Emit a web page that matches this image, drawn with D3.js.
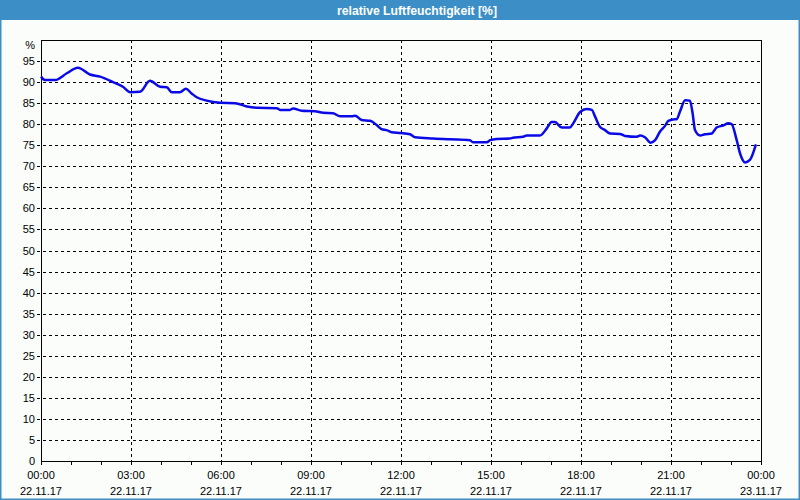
<!DOCTYPE html>
<html><head><meta charset="utf-8">
<script src="https://cdn.jsdelivr.net/npm/d3@7/dist/d3.min.js"></script>
<style>
html,body{margin:0;padding:0;background:#fff;}
svg{display:block;font-family:"Liberation Sans",Arial,sans-serif;}
</style></head><body>
<script>
const title = "relative Luftfeuchtigkeit [%]";
// hours since 22.11.17 00:00
const hours = [0.00,0.13,0.47,0.86,1.23,1.63,1.97,2.40,2.73,2.97,3.30,3.63,3.97,4.19,4.36,4.63,4.83,5.02,5.19,5.52,5.97,6.47,6.86,7.19,7.86,7.97,8.30,8.40,8.69,9.13,9.40,9.73,9.97,10.36,10.47,10.69,10.97,11.19,11.36,11.52,11.69,11.97,12.30,12.47,13.07,13.63,14.30,14.40,14.86,14.97,15.19,15.63,15.73,16.07,16.19,16.63,16.86,17.02,17.13,17.36,17.63,17.74,17.97,18.19,18.36,18.47,18.63,18.80,18.97,19.30,19.47,19.86,19.97,20.13,20.32,20.47,20.63,20.80,20.91,21.13,21.19,21.30,21.47,21.63,21.72,21.80,21.97,22.13,22.36,22.52,22.74,22.91,23.02,23.19,23.30,23.47,23.63,23.83];
const humidity = [91.3,90.5,90.5,92.1,93.4,91.8,91.3,90.0,88.9,87.6,87.7,90.3,88.9,88.8,87.6,87.6,88.4,87.3,86.4,85.6,85.1,85.0,84.2,83.9,83.8,83.4,83.4,83.7,83.2,83.1,82.7,82.6,81.9,81.9,82.0,81.0,80.8,79.8,78.8,78.6,78.1,77.9,77.6,76.9,76.6,76.4,76.2,75.7,75.7,76.2,76.5,76.6,76.8,77.0,77.3,77.3,79.0,80.5,80.5,79.2,79.2,80.2,82.9,83.6,83.4,81.8,79.4,78.6,77.8,77.7,77.2,77.0,77.3,76.9,75.6,76.2,78.2,79.6,80.8,81.2,81.2,83.0,85.7,85.6,82.6,78.6,77.3,77.6,77.8,79.2,79.7,80.2,80.0,76.2,73.1,70.9,71.5,75.2];
const yTicks = [0,5,10,15,20,25,30,35,40,45,50,55,60,65,70,75,80,85,90,95];
const xMajor = [0,3,6,9,12,15,18,21,24];
const xTimeLabels = ["00:00","03:00","06:00","09:00","12:00","15:00","18:00","21:00","00:00"];
const xDateLabels = ["22.11.17","22.11.17","22.11.17","22.11.17","22.11.17","22.11.17","22.11.17","22.11.17","23.11.17"];
const xMinor = d3.range(0,25,1);

const W=800,H=500;
const L=41,R=761,T=40,B=461;
const svg=d3.select("body").append("svg").attr("width",W).attr("height",H);
svg.append("rect").attr("width",W).attr("height",H).attr("fill","#fbfdfb");
svg.append("rect").attr("x",0.5).attr("y",0.5).attr("width",W-1).attr("height",H-1).attr("fill","none").attr("stroke","#3c8fc6").attr("stroke-width",2);
svg.append("rect").attr("x",0).attr("y",0).attr("width",W).attr("height",20).attr("fill","#3c8fc6");
svg.append("text").attr("x",417).attr("y",15).attr("text-anchor","middle").attr("fill","#fff")
 .attr("font-size",12).attr("font-weight","bold").attr("textLength",160).attr("lengthAdjust","spacingAndGlyphs").text(title);

const x=d3.scaleLinear().domain([0,24]).range([L,R]);
const y=d3.scaleLinear().domain([0,100]).range([B,T]);

const g=svg.append("g");
g.selectAll(".hg").data(yTicks.filter(d=>d>0)).enter().append("line")
 .attr("x1",L-4).attr("x2",R).attr("y1",d=>Math.round(y(d))+0.5).attr("y2",d=>Math.round(y(d))+0.5)
 .attr("stroke","#000").attr("stroke-dasharray","3,3");
g.selectAll(".vg").data(xMajor.filter(d=>d>0&&d<24)).enter().append("line")
 .attr("x1",d=>Math.round(x(d))+0.5).attr("x2",d=>Math.round(x(d))+0.5).attr("y1",T).attr("y2",B)
 .attr("stroke","#000").attr("stroke-dasharray","3,3");
g.append("rect").attr("x",L+0.5).attr("y",T+0.5).attr("width",R-L).attr("height",B-T).attr("fill","none").attr("stroke","#000");
g.selectAll(".mt").data(xMinor).enter().append("line")
 .attr("x1",d=>Math.round(x(d))+0.5).attr("x2",d=>Math.round(x(d))+0.5).attr("y1",B).attr("y2",B+4).attr("stroke","#000");
g.selectAll(".yl").data(yTicks).enter().append("text")
 .attr("x",35).attr("y",d=>y(d)+4).attr("text-anchor","end").attr("font-size",11).attr("fill","#000").text(d=>d);
g.append("text").attr("x",35).attr("y",49).attr("text-anchor","end").attr("font-size",11).text("%");
g.selectAll(".xl").data(xMajor).enter().append("text")
 .attr("x",d=>x(d)).attr("y",479).attr("text-anchor","middle").attr("font-size",11).text((d,i)=>xTimeLabels[i]);
g.selectAll(".xd").data(xMajor).enter().append("text")
 .attr("x",d=>x(d)).attr("y",495).attr("text-anchor","middle").attr("font-size",11).text((d,i)=>xDateLabels[i]);
const data=hours.map((h,i)=>[h,humidity[i]]);
svg.append("path").datum(data).attr("fill","none").attr("stroke","#0a0ae6").attr("stroke-width",2.5)
 .attr("stroke-linejoin","round")
 .attr("d",d3.line().x(d=>x(d[0])).y(d=>y(d[1])).curve(d3.curveMonotoneX));
</script>
</body></html>
